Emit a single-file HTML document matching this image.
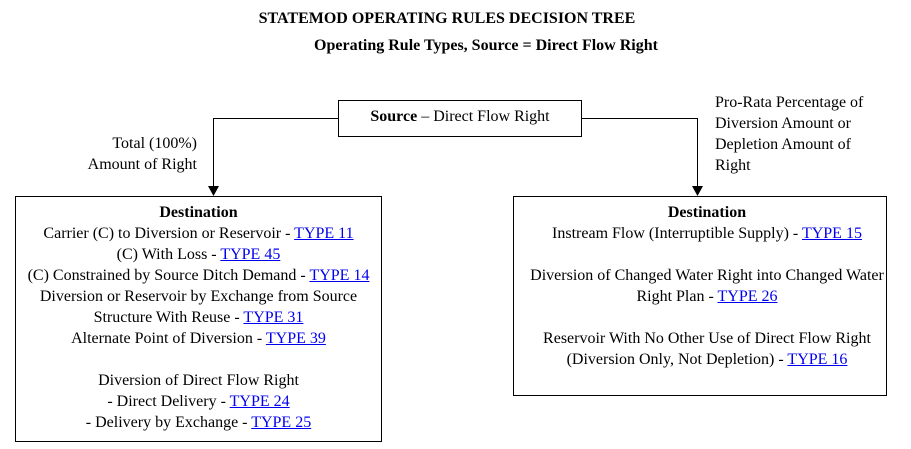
<!DOCTYPE html>
<html><head><style>
body{margin:0;width:911px;height:449px;background:#fff;position:relative;font-family:"Liberation Serif",serif;font-size:16px;color:#000;overflow:hidden}
.a{position:absolute;white-space:nowrap;line-height:21px}
.c{text-align:center}
.box{position:absolute;border:1px solid #000;box-sizing:border-box}
a{color:#00e;text-decoration:underline}
.l{position:absolute;background:#000}
</style></head><body>
<div class="a c" style="left:0;width:894px;top:8px;font-weight:bold">STATEMOD OPERATING RULES DECISION TREE</div>
<div class="a c" style="left:226px;width:520px;top:35px;font-weight:bold">Operating Rule Types, Source = Direct Flow Right</div>

<div class="box" style="left:338px;top:100px;width:244px;height:37px"></div>
<div class="a c" style="left:338px;width:244px;top:106px"><b>Source</b> – Direct Flow Right</div>

<div class="l" style="left:213px;top:118px;width:125px;height:1px"></div>
<div class="l" style="left:213px;top:118px;width:1px;height:70px"></div>
<svg style="position:absolute;left:208px;top:186px" width="11" height="10"><polygon points="0,0 11,0 5.5,10" fill="#000"/></svg>
<div class="l" style="left:582px;top:118px;width:116px;height:1px"></div>
<div class="l" style="left:697px;top:118px;width:1px;height:70px"></div>
<svg style="position:absolute;left:692px;top:186px" width="11" height="10"><polygon points="0,0 11,0 5.5,10" fill="#000"/></svg>

<div class="a" style="left:40px;width:157px;top:133px;text-align:right;white-space:normal">Total (100%)<br>Amount of Right</div>
<div class="a" style="left:715px;top:92px">Pro-Rata Percentage of<br>Diversion Amount or<br>Depletion Amount of<br>Right</div>

<div class="box" style="left:15px;top:196px;width:367px;height:246px"></div>
<div class="a c" style="left:15px;width:367px;top:202px">
<b>Destination</b><br>
Carrier (C) to Diversion or Reservoir - <a>TYPE 11</a><br>
(C) With Loss - <a>TYPE 45</a><br>
(C) Constrained by Source Ditch Demand - <a>TYPE 14</a><br>
Diversion or Reservoir by Exchange from Source<br>
Structure With Reuse - <a>TYPE 31</a><br>
Alternate Point of Diversion - <a>TYPE 39</a><br>
&nbsp;<br>
Diversion of Direct Flow Right<br>
- Direct Delivery - <a>TYPE 24</a><br>
- Delivery by Exchange - <a>TYPE 25</a>
</div>

<div class="box" style="left:513px;top:196px;width:374px;height:200px"></div>
<div class="a c" style="left:520px;width:374px;top:202px">
<b>Destination</b><br>
Instream Flow (Interruptible Supply) - <a>TYPE 15</a><br>
&nbsp;<br>
Diversion of Changed Water Right into Changed Water<br>
Right Plan - <a>TYPE 26</a><br>
&nbsp;<br>
Reservoir With No Other Use of Direct Flow Right<br>
(Diversion Only, Not Depletion) - <a>TYPE 16</a>
</div>
</body></html>
